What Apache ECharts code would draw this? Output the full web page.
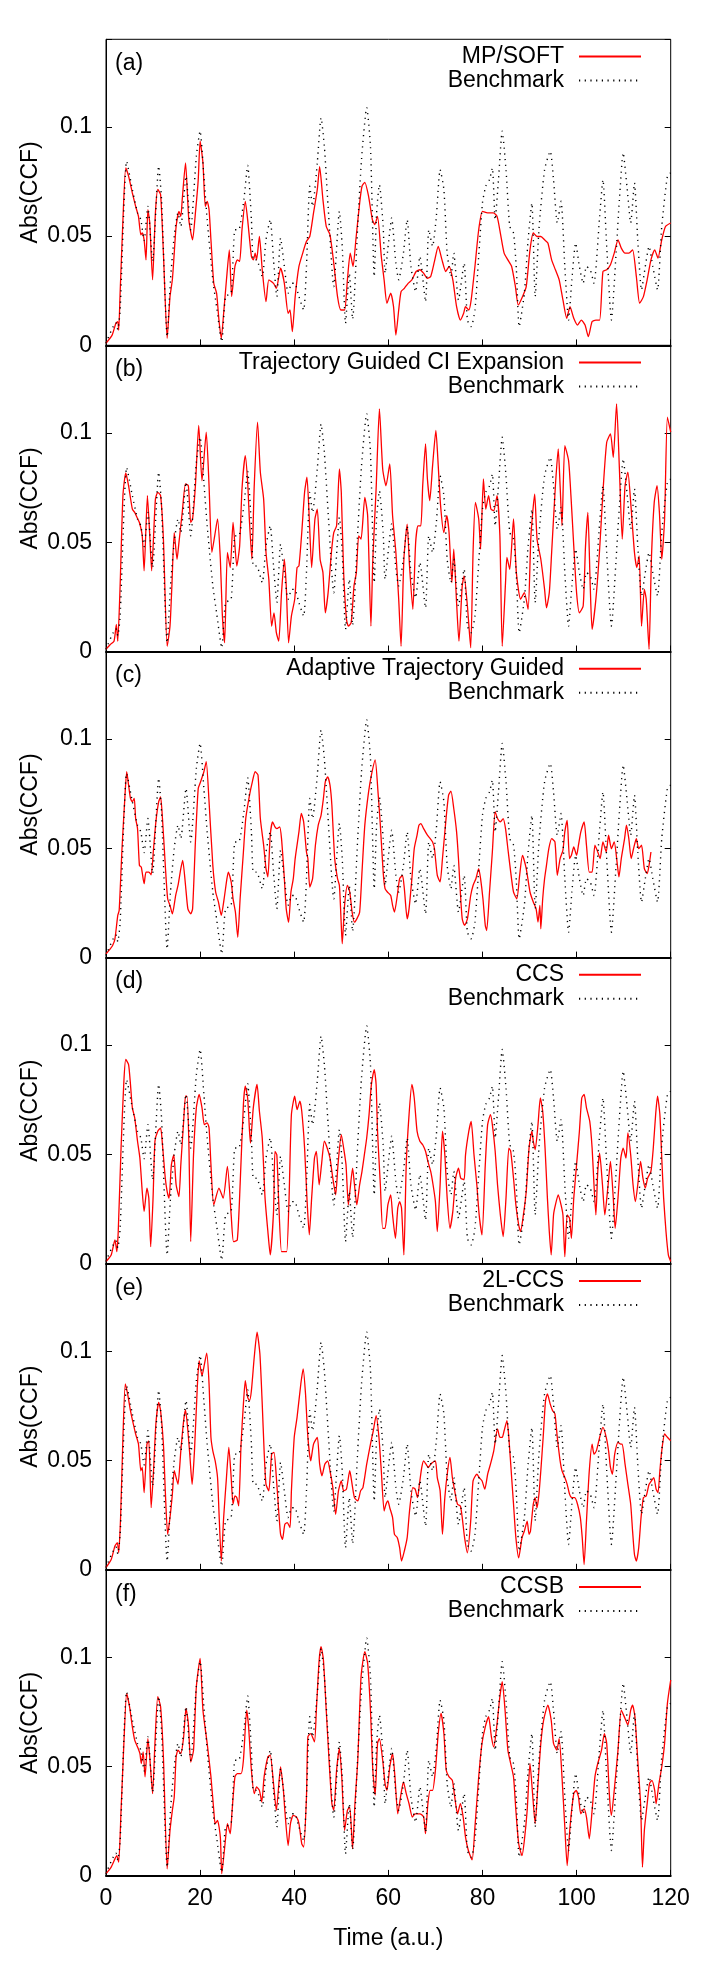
<!DOCTYPE html>
<html>
<head>
<meta charset="utf-8">
<script src="https://cdn.jsdelivr.net/npm/echarts@6/dist/echarts.min.js"></script>
<style>
html, body { margin: 0; padding: 0; background: #fff; }
#chart { width: 706px; height: 1976px; }
</style>
</head>
<body>
<div id="chart"></div>
<script>
// benchmark |CCF|, same curve in every panel: [time (a.u.), value]
const bench = [[0,.001],[2.1,.0104],[2.5,.0073],[3.0,.016],[4.4,.0842],[5.6,.0713],[6.7,.0606],[7.4,.0575],[8.1,.048],[8.9,.0636],[9.9,.0384],[11.2,.082],[11.8,.0667],[13.0,.004],[13.7,.030],[14.5,.050],[15.3,.0606],[15.9,.0544],[17.0,.0774],[18.0,.0529],[19.2,.0865],[20.0,.098],[20.8,.0774],[21.5,.0575],[22.7,.030],[23.5,.0177],[24.6,.0017],[25.4,.0223],[26.6,.0239],[27.4,.0529],[28.2,.0529],[29.3,.0667],[30.1,.0823],[30.9,.0575],[31.3,.0391],[32.0,.0391],[33.2,.0315],[34.0,.0483],[34.9,.0575],[35.6,.0391],[36.3,.0223],[37.1,.0491],[37.9,.0361],[38.7,.0239],[39.5,.0284],[40.1,.0284],[41.0,.0223],[42.0,.0162],[42.6,.0361],[43.3,.0728],[43.9,.0636],[44.9,.0835],[45.7,.1041],[46.4,.0911],[47.2,.0636],[48.4,.0269],[49.6,.0613],[50.2,.0453],[50.9,.0101],[51.7,.033],[52.4,.012],[53.5,.055],[54.3,.085],[55.4,.1087],[56.2,.0911],[57.0,.0315],[57.5,.0606],[58.1,.0735],[58.9,.0544],[59.3,.033],[60.1,.0483],[60.7,.0583],[61.6,.0376],[62.2,.030],[63.2,.0422],[64.0,.0575],[64.8,.0361],[65.8,.0246],[66.7,.0407],[67.9,.020],[68.6,.0529],[69.4,.0453],[70.2,.059],[71.0,.0804],[71.8,.0713],[72.5,.0422],[73.3,.0315],[73.9,.0422],[74.9,.0208],[76.1,.0376],[76.8,.0116],[77.6,.0086],[78.4,.0162],[79.2,.0407],[80.0,.0651],[80.7,.0728],[81.5,.0758],[82.1,.0812],[82.7,.0575],[83.4,.0758],[84.2,.098],[85.0,.0804],[85.8,.0544],[86.6,.0514],[87.2,.035],[87.8,.0086],[88.9,.0239],[89.7,.0483],[90.5,.0651],[91.2,.0223],[92.0,.0529],[93.2,.0804],[94.4,.0888],[95.1,.0758],[95.9,.056],[96.7,.0659],[97.5,.0361],[98.3,.0116],[99.0,.030],[99.8,.0468],[100.6,.0361],[101.4,.0284],[102.1,.0361],[102.9,.0346],[103.7,.0284],[104.9,.059],[105.6,.0758],[106.4,.0453],[107.4,.0116],[108.4,.0422],[109.1,.0667],[109.9,.0881],[110.7,.0728],[111.5,.056],[112.3,.0743],[113.0,.0483],[113.8,.0254],[114.6,.0361],[115.4,.0453],[116.2,.0361],[117.2,.0254],[118.1,.0544],[119.3,.0774],[120,.0789]];

const mpsoft = [[0,.001],[1.3,.0047],[2.1,.0101],[2.5,.0109],[2.7,.007],[3.0,.0239],[3.6,.0575],[4.2,.0812],[4.8,.0774],[5.6,.0697],[6.3,.0636],[6.9,.059],[7.4,.0506],[7.7,.0514],[8.1,.0483],[8.5,.0391],[8.9,.0621],[9.3,.056],[9.9,.030],[10.5,.0606],[11.0,.0713],[11.6,.069],[12.2,.0422],[13.0,.0032],[13.6,.0223],[14.1,.030],[14.5,.0422],[14.9,.0544],[15.5,.0613],[15.9,.059],[16.2,.0667],[16.9,.0835],[17.6,.0575],[18.4,.0483],[19.0,.0606],[19.6,.0758],[20.0,.0934],[20.6,.0835],[21.1,.0636],[21.5,.0659],[21.9,.0621],[22.3,.0483],[22.9,.0284],[23.5,.0239],[24.0,.0116],[24.5,.0032],[25.0,.0147],[25.6,.030],[26.2,.0437],[26.7,.0223],[27.4,.0361],[27.9,.0391],[28.4,.0384],[28.9,.0529],[29.6,.0659],[30.1,.0575],[30.9,.0407],[31.3,.0391],[31.7,.0422],[32.0,.0391],[32.6,.0498],[33.2,.0346],[34.0,.020],[34.6,.030],[35.6,.0284],[36.2,.0261],[37.1,.0353],[37.9,.0284],[38.7,.0147],[39.1,.0162],[39.6,.0063],[40.2,.0223],[41.0,.0361],[41.8,.0422],[42.6,.0476],[43.3,.0498],[44.1,.0606],[44.9,.0713],[45.4,.0817],[46.1,.0667],[46.8,.0544],[47.6,.0506],[48.4,.0376],[49.2,.0223],[49.9,.0162],[50.7,.0162],[51.3,.030],[51.9,.0422],[52.5,.0361],[53.1,.0483],[53.9,.0651],[54.4,.0728],[55.0,.0746],[55.8,.0682],[56.6,.0575],[57.1,.0552],[57.7,.059],[58.5,.0407],[59.1,.030],[59.7,.0193],[60.5,.0239],[61.1,.0177],[61.6,.0047],[62.2,.0162],[62.7,.0246],[63.4,.0261],[64.2,.0284],[65.0,.030],[65.9,.0338],[66.7,.0346],[67.5,.033],[68.3,.0307],[69.0,.0315],[69.8,.0384],[70.6,.0453],[71.4,.0391],[72.2,.0338],[72.9,.0361],[73.7,.030],[74.5,.0177],[75.3,.0116],[76.0,.0147],[76.4,.0177],[77.1,.0162],[77.6,.0208],[78.4,.0361],[79.2,.0529],[80.0,.0613],[81.1,.0606],[82.3,.0606],[83.1,.059],[83.8,.0514],[84.6,.0422],[85.4,.0391],[86.2,.0361],[87.0,.0269],[87.6,.0185],[88.5,.0223],[89.3,.0269],[90.1,.0437],[90.8,.0514],[91.6,.0498],[92.4,.0498],[93.2,.0483],[93.9,.0468],[94.7,.0391],[95.5,.0346],[96.3,.030],[97.1,.0208],[97.9,.0124],[98.6,.0177],[99.4,.0124],[100.2,.0093],[101.0,.0116],[101.8,.0093],[102.5,.004],[103.3,.0109],[104.1,.0116],[104.9,.0116],[105.6,.0338],[106.4,.0346],[107.2,.0369],[108.0,.0422],[108.8,.0483],[109.5,.0445],[110.3,.0422],[111.1,.0422],[111.9,.0437],[112.7,.0315],[113.4,.0193],[114.2,.0223],[115.0,.030],[115.8,.0391],[116.6,.0437],[117.3,.0399],[118.1,.0483],[118.9,.0544],[120,.056]];

const tgci = [[0,.001],[0.9,.0032],[1.7,.0047],[2.2,.0124],[2.5,.0047],[3.0,.030],[3.6,.0713],[4.2,.0817],[4.8,.0758],[5.6,.0651],[6.1,.0636],[6.6,.0613],[7.1,.059],[7.7,.0529],[8.1,.0369],[8.8,.0713],[9.3,.0529],[9.7,.0369],[10.5,.0697],[11.0,.0728],[11.6,.0713],[12.2,.0514],[13.0,.0024],[13.6,.0116],[14.0,.030],[14.5,.0544],[15.1,.0422],[15.5,.0498],[16.2,.0636],[16.9,.0766],[17.5,.0758],[18.0,.059],[18.4,.0606],[19.0,.0758],[19.7,.1034],[20.4,.0781],[21.3,.1003],[21.9,.0758],[22.5,.0453],[23.1,.0529],[23.7,.0606],[24.3,.0422],[24.7,.0177],[25.2,.004],[25.8,.0453],[26.4,.0384],[27.0,.059],[27.8,.0391],[28.4,.0483],[28.9,.0743],[29.6,.0896],[30.1,.0774],[30.5,.059],[31.0,.0422],[31.5,.0758],[32.2,.1049],[32.8,.082],[33.5,.0697],[34.0,.0453],[34.6,.033],[35.2,.0116],[35.7,.0177],[36.2,.0086],[36.7,.0047],[37.3,.0269],[37.9,.0422],[38.3,.030],[38.8,.004],[39.4,.0162],[40.1,.0239],[40.6,.0384],[41.0,.0391],[41.6,.0544],[42.2,.0728],[42.7,.0797],[43.2,.0606],[43.7,.0384],[44.4,.0606],[44.9,.0651],[45.5,.0422],[46.1,.0361],[46.6,.0177],[47.2,.0269],[47.9,.0453],[48.4,.0544],[49.0,.0575],[49.6,.0835],[50.0,.0728],[50.5,.0361],[51.1,.0147],[51.5,.0116],[52.1,.0132],[52.7,.030],[53.2,.0361],[53.7,.0529],[54.2,.0514],[55.0,.0705],[55.6,.0621],[56.3,.0116],[56.7,.0422],[57.4,.0743],[58.1,.111],[58.8,.0835],[59.5,.0758],[60.3,.0858],[60.9,.0621],[61.6,.0453],[62.2,.0239],[62.7,.0024],[63.3,.0422],[64.0,.0583],[64.5,.0391],[65.2,.0193],[65.8,.0498],[66.3,.0575],[66.9,.0575],[67.3,.0758],[67.9,.095],[68.3,.0789],[68.8,.069],[69.4,.085],[70.1,.1011],[70.6,.085],[71.1,.0667],[71.8,.0544],[72.4,.0621],[72.9,.0544],[73.5,.0315],[73.9,.0468],[74.5,.0223],[75.0,.0047],[75.7,.030],[76.1,.0346],[76.8,.0208],[77.5,.0017],[78.0,.0453],[78.5,.0682],[79.2,.0606],[79.6,.0468],[80.2,.0789],[80.7,.0651],[81.3,.0713],[81.8,.0651],[82.4,.0644],[83.1,.0713],[83.7,.0529],[84.2,.0024],[84.9,.0315],[85.2,.043],[85.8,.0376],[86.6,.0606],[87.2,.0361],[88.1,.0239],[88.9,.0269],[89.7,.0193],[90.3,.0529],[91.1,.072],[91.6,.0514],[92.4,.0422],[93.2,.0284],[93.6,.020],[94.2,.0269],[94.7,.0453],[95.5,.0758],[96.1,.0927],[96.5,.0758],[96.9,.0575],[97.5,.0942],[98.3,.0873],[98.8,.0713],[99.4,.0483],[100.0,.0269],[100.6,.0177],[101.4,.0208],[101.9,.0483],[102.4,.0636],[102.9,.030],[103.3,.0101],[104.1,.0239],[104.9,.0468],[105.6,.0728],[106.4,.0957],[107.2,.0995],[107.8,.0888],[108.5,.1133],[109.1,.0835],[109.7,.0514],[110.3,.0758],[110.9,.082],[111.5,.0682],[112.3,.0453],[112.8,.0384],[113.3,.0437],[113.8,.0116],[114.4,.0284],[114.8,.0239],[115.4,.001],[115.9,.0422],[116.5,.0682],[117.1,.0758],[117.6,.0636],[118.1,.0422],[118.7,.0606],[119.3,.1072],[120,.1003]];

const atg = [[0,.0017],[0.9,.004],[1.4,.0055],[1.9,.0086],[2.5,.0193],[2.8,.0216],[3.4,.0498],[4.0,.0728],[4.4,.085],[4.8,.0789],[5.2,.0728],[5.6,.0713],[6.0,.0728],[6.3,.0636],[6.7,.059],[7.1,.0422],[7.5,.0414],[8.1,.0338],[8.5,.0391],[9.1,.0391],[9.6,.0379],[10.1,.0498],[10.6,.0621],[11.2,.0713],[11.6,.0735],[12.0,.0636],[12.6,.0422],[13.1,.0269],[13.6,.0239],[14.1,.020],[14.8,.0284],[15.3,.033],[15.9,.0407],[16.3,.0445],[16.9,.033],[17.4,.0223],[18.0,.020],[18.4,.0223],[19.0,.0529],[19.6,.0774],[20.1,.0804],[20.8,.085],[21.3,.0896],[21.9,.0713],[22.7,.0422],[23.3,.030],[23.9,.0254],[24.5,.0193],[25.1,.0269],[25.7,.0361],[26.0,.0391],[26.6,.0346],[27.0,.0269],[27.5,.0208],[28.0,.0093],[28.5,.0269],[29.2,.0483],[29.7,.0636],[30.5,.0743],[31.1,.0804],[31.7,.085],[32.3,.0835],[32.8,.0636],[33.5,.0514],[34.0,.0407],[34.4,.0369],[34.9,.056],[35.4,.0621],[35.9,.0598],[36.3,.059],[36.9,.0598],[37.3,.0544],[37.9,.0361],[38.3,.0223],[38.8,.0162],[39.3,.030],[39.8,.0361],[40.2,.0453],[41.0,.0575],[41.5,.0659],[42.0,.0621],[42.6,.0483],[42.9,.0453],[43.3,.0323],[43.9,.0361],[44.5,.0514],[45.1,.0606],[45.7,.0651],[46.2,.0728],[46.6,.0804],[47.1,.0827],[47.6,.0789],[48.0,.0697],[48.6,.0453],[49.2,.0361],[49.6,.033],[50.0,.0147],[50.2,.0063],[50.7,.0239],[51.3,.033],[51.8,.030],[52.3,.0208],[52.8,.0162],[53.3,.0177],[53.9,.0208],[54.4,.0391],[55.0,.0606],[55.8,.0758],[56.4,.0835],[57.2,.0904],[57.8,.0758],[58.3,.0606],[58.9,.0391],[59.3,.0315],[59.8,.030],[60.5,.0284],[60.9,.0239],[61.3,.0208],[61.9,.0284],[62.4,.0361],[63.0,.0376],[63.4,.0315],[64.0,.0177],[64.4,.0223],[65.0,.0361],[65.5,.0498],[66.1,.056],[66.5,.0606],[66.9,.0613],[67.5,.059],[68.3,.056],[68.9,.0544],[69.4,.0529],[69.8,.0498],[70.4,.0376],[71.0,.0346],[71.5,.0453],[72.2,.0621],[72.8,.0743],[73.3,.0761],[73.9,.0682],[74.5,.0575],[74.9,.0453],[75.3,.030],[75.7,.0177],[76.2,.0147],[76.8,.0177],[77.5,.0284],[78.0,.033],[78.6,.0361],[79.2,.0407],[79.6,.0361],[80.1,.0269],[80.6,.0147],[80.9,.0124],[81.5,.030],[82.1,.0483],[82.7,.0667],[83.2,.0636],[83.8,.0621],[84.4,.0636],[84.9,.059],[85.4,.0498],[86.0,.0391],[86.6,.030],[87.3,.0269],[87.9,.0376],[88.5,.0468],[89.3,.0407],[90.1,.030],[90.8,.0254],[91.4,.0223],[91.8,.0162],[92.2,.0239],[92.4,.0132],[92.8,.0269],[93.2,.0361],[93.6,.0422],[94.1,.0498],[94.7,.0544],[95.4,.0529],[95.9,.0376],[96.5,.0453],[97.1,.0491],[97.5,.0575],[98.0,.0628],[98.5,.0453],[98.9,.0468],[99.4,.0506],[100.0,.0468],[100.4,.0514],[100.9,.0575],[101.6,.0621],[102.1,.0514],[102.7,.0391],[103.3,.0391],[103.9,.0514],[104.5,.0483],[105.0,.0453],[105.6,.0529],[106.3,.0483],[106.8,.056],[107.4,.0498],[108.0,.0529],[108.6,.0437],[109.0,.0369],[109.5,.0453],[110.2,.0544],[110.6,.0606],[111.1,.0544],[111.6,.0453],[112.1,.0498],[112.7,.0544],[113.2,.0498],[113.8,.0514],[114.4,.0407],[115.0,.0384],[115.4,.0422],[115.8,.0483]];

const ccs = [[0,.001],[1.1,.004],[1.9,.0109],[2.3,.0055],[2.6,.0147],[3.2,.0529],[3.8,.0835],[4.2,.0934],[4.8,.0911],[5.2,.082],[5.6,.0713],[6.1,.0667],[6.7,.056],[7.2,.0483],[7.7,.033],[8.1,.0239],[8.7,.0346],[9.1,.030],[9.5,.0078],[10.0,.030],[10.4,.056],[11.0,.0606],[11.6,.0621],[12.0,.0544],[12.6,.0391],[13.0,.033],[13.4,.030],[13.9,.0453],[14.4,.0498],[14.9,.0361],[15.5,.0307],[15.9,.0453],[16.5,.0651],[16.9,.0766],[17.2,.0766],[17.6,.056],[18.0,.0101],[18.6,.0498],[19.2,.0713],[19.8,.0774],[20.4,.0713],[20.9,.0636],[21.5,.0644],[21.9,.0621],[22.3,.0453],[22.9,.0269],[24.0,.0346],[24.9,.030],[25.8,.0445],[26.6,.0223],[27.1,.0101],[27.9,.0109],[28.5,.0361],[29.2,.0728],[29.6,.0812],[30.1,.0758],[30.5,.0606],[30.7,.0552],[31.3,.0713],[32.1,.082],[32.6,.0697],[33.2,.0575],[33.8,.030],[34.4,.0147],[34.9,.004],[35.6,.0239],[35.9,.0514],[36.3,.0498],[36.7,.0284],[37.3,.0055],[37.9,.0055],[38.4,.0055],[38.9,.030],[39.4,.0682],[40.1,.0766],[40.6,.0705],[41.2,.0743],[41.6,.0697],[42.2,.0529],[42.7,.030],[43.2,.0132],[43.7,.030],[44.3,.0483],[44.7,.0514],[45.3,.0361],[45.8,.0453],[46.4,.056],[47.0,.0529],[47.6,.0483],[48.2,.0391],[48.8,.0315],[49.3,.0453],[50.0,.059],[50.5,.0529],[51.0,.0453],[51.5,.0269],[51.9,.0346],[52.4,.0437],[52.8,.0361],[53.3,.0269],[53.9,.0361],[54.4,.0422],[54.9,.0498],[55.4,.0575],[55.9,.0682],[56.4,.082],[57.0,.0888],[57.4,.082],[57.7,.0606],[58.3,.0361],[58.8,.0162],[59.3,.0162],[59.9,.0269],[60.5,.0315],[60.9,.0223],[61.5,.0116],[62.0,.0254],[62.4,.0284],[62.8,.0254],[63.3,.004],[63.8,.0453],[64.4,.0682],[65.0,.082],[65.5,.0758],[66.1,.0606],[66.7,.056],[67.3,.0544],[67.9,.0514],[68.4,.0468],[69.0,.0422],[69.5,.0361],[70.0,.0284],[70.4,.0147],[71.0,.0361],[71.5,.0606],[72.0,.0498],[72.5,.030],[73.1,.0162],[73.7,.0239],[74.3,.0391],[74.9,.0437],[75.4,.0391],[76.1,.0384],[76.4,.0498],[77.1,.0606],[77.6,.0651],[78.2,.0498],[78.8,.0361],[79.3,.0223],[79.9,.0132],[80.6,.0453],[81.1,.0636],[81.7,.0682],[82.1,.0636],[82.7,.0514],[83.2,.0361],[83.8,.0223],[84.4,.0124],[85.0,.030],[85.6,.0529],[86.0,.0514],[86.6,.0391],[87.1,.0269],[87.7,.0177],[88.1,.0147],[88.7,.0223],[89.3,.033],[89.9,.0529],[90.5,.0606],[90.8,.056],[91.2,.0521],[91.8,.0636],[92.3,.0758],[92.8,.0697],[93.3,.0529],[93.8,.030],[94.2,.0147],[94.6,.004],[95.1,.0223],[95.5,.0269],[96.1,.0315],[96.7,.0269],[97.1,.0223],[97.5,.0032],[98.0,.0223],[98.5,.0208],[98.9,.0116],[99.4,.030],[100.0,.0453],[100.6,.0606],[101.1,.0758],[101.6,.0774],[102.1,.0713],[102.8,.0651],[103.3,.0529],[103.7,.0361],[104.1,.0223],[104.5,.0422],[104.9,.0506],[105.5,.0361],[106.0,.0223],[106.7,.0361],[107.2,.0468],[107.8,.030],[108.2,.0162],[108.8,.030],[109.4,.0483],[109.9,.0529],[110.5,.0483],[110.9,.0598],[111.5,.0498],[112.0,.0361],[112.5,.0284],[113.0,.0361],[113.6,.0468],[114.1,.0391],[114.6,.0346],[115.1,.0391],[115.8,.0422],[116.3,.0529],[116.8,.0682],[117.2,.0766],[117.7,.0682],[118.1,.0483],[118.5,.030],[119.0,.0147],[119.5,.004],[120,.001]];

const ccs2l = [[0,.001],[1.1,.0047],[1.9,.0109],[2.4,.0124],[2.7,.0078],[3.1,.0239],[3.6,.0606],[4.1,.085],[4.6,.0804],[5.2,.0728],[5.8,.0667],[6.3,.0621],[6.9,.0575],[7.4,.0453],[7.7,.0468],[8.1,.0353],[8.7,.0575],[9.1,.059],[9.6,.0284],[10.1,.0453],[10.6,.0667],[11.2,.0766],[11.6,.0728],[12.2,.0575],[12.6,.0361],[13.1,.0162],[13.6,.0239],[14.1,.0346],[14.5,.0453],[14.9,.0422],[15.3,.0391],[15.9,.0544],[16.5,.0682],[16.9,.0731],[17.4,.0636],[17.8,.0529],[18.3,.0391],[18.8,.0544],[19.4,.0835],[19.8,.0957],[20.4,.0888],[20.8,.0927],[21.4,.0991],[21.9,.085],[22.3,.0606],[22.7,.0544],[23.2,.0498],[23.7,.0422],[24.0,.0269],[24.5,.004],[25.0,.0239],[25.6,.0422],[26.1,.056],[26.6,.0422],[27.0,.030],[27.4,.0338],[27.8,.033],[28.2,.0292],[28.7,.0575],[29.2,.0758],[29.6,.0865],[30.1,.0789],[30.5,.0774],[30.9,.082],[31.5,.0972],[32.1,.1087],[32.7,.0988],[33.2,.0758],[33.6,.0544],[34.0,.0391],[34.6,.0361],[35.2,.0529],[35.7,.0537],[36.2,.0422],[36.7,.0269],[37.1,.0162],[37.5,.0139],[38.0,.0208],[38.5,.0216],[39.1,.0193],[39.4,.0361],[40.0,.0606],[40.6,.0697],[41.4,.085],[41.9,.0919],[42.4,.0804],[42.9,.0606],[43.5,.0498],[44.1,.0575],[44.9,.0606],[45.4,.0483],[45.9,.043],[46.5,.0483],[47.1,.0498],[47.6,.0453],[48.2,.0376],[48.8,.0254],[49.4,.0361],[50.0,.0407],[50.5,.0361],[51.1,.0369],[51.8,.0453],[52.3,.0391],[52.8,.033],[53.5,.0315],[54.1,.0361],[54.6,.0376],[55.4,.0483],[56.2,.0575],[56.8,.0636],[57.4,.0705],[58.0,.0606],[58.5,.0453],[59.1,.0269],[59.5,.030],[59.9,.0315],[60.3,.0284],[60.9,.0239],[61.3,.0162],[61.9,.0147],[62.4,.0101],[62.8,.004],[63.4,.0086],[64.0,.0147],[64.5,.0269],[65.2,.0376],[65.7,.0369],[66.2,.033],[66.6,.0391],[67.1,.0468],[67.5,.0498],[68.0,.0483],[68.5,.0468],[69.0,.0483],[69.4,.0491],[70.0,.0498],[70.4,.0422],[71.0,.0361],[71.5,.0162],[72.0,.033],[72.6,.0453],[73.1,.0514],[73.6,.0422],[74.1,.0361],[74.7,.030],[75.3,.0292],[75.7,.0239],[76.2,.0147],[76.8,.0078],[77.5,.0223],[78.0,.0407],[78.8,.0437],[79.3,.0422],[79.9,.0407],[80.5,.0369],[81.1,.0437],[81.7,.0483],[82.4,.0544],[83.2,.0644],[83.7,.0606],[84.2,.0606],[84.6,.0636],[85.2,.0682],[85.6,.0606],[86.2,.0422],[86.6,.030],[87.1,.0147],[87.7,.0055],[88.4,.0147],[88.9,.0177],[89.5,.0223],[89.9,.0162],[90.2,.0177],[90.8,.030],[91.2,.033],[91.6,.0284],[92.0,.0346],[92.4,.0453],[92.9,.0606],[93.4,.0774],[93.8,.0804],[94.4,.0758],[94.9,.0728],[95.4,.0713],[95.9,.0606],[96.5,.0498],[96.9,.0453],[97.5,.0422],[98.0,.0391],[98.5,.0346],[99.0,.033],[99.6,.033],[100.2,.030],[100.8,.0239],[101.2,.0147],[101.6,.0024],[102.1,.0223],[102.7,.0453],[103.3,.0575],[103.7,.0529],[104.2,.0544],[104.9,.0606],[105.6,.0651],[106.3,.0606],[106.8,.0544],[107.2,.0468],[107.6,.0437],[108.1,.0529],[108.8,.0583],[109.4,.0575],[109.7,.0575],[110.3,.0483],[110.9,.0391],[111.5,.030],[111.9,.0177],[112.3,.007],[112.7,.004],[113.2,.0101],[113.7,.0239],[114.2,.033],[114.8,.0338],[115.4,.0391],[115.9,.0407],[116.4,.0422],[116.9,.0369],[117.3,.0353],[117.7,.0453],[118.1,.0544],[118.7,.0621],[119.3,.0606],[120,.059]];

const ccsb = [[0,.001],[1.1,.004],[1.9,.0078],[2.3,.0093],[2.7,.0063],[3.2,.030],[3.8,.0606],[4.4,.0835],[5.0,.0774],[5.6,.0682],[6.1,.0621],[6.7,.059],[7.2,.056],[7.5,.0514],[7.9,.0567],[8.3,.0453],[8.9,.0628],[9.3,.0544],[9.9,.0376],[10.4,.0606],[11.0,.082],[11.6,.0774],[12.2,.0544],[13.0,.0032],[13.6,.0208],[14.1,.030],[14.5,.0361],[14.9,.0544],[15.3,.0575],[15.9,.056],[16.5,.0636],[17.0,.0766],[17.5,.0697],[18.0,.0521],[18.6,.0575],[19.2,.0865],[20.0,.0995],[20.6,.0758],[21.5,.0606],[22.3,.0453],[22.9,.030],[23.2,.0239],[23.7,.0254],[24.3,.0177],[24.6,.001],[25.3,.0147],[25.8,.0239],[26.4,.0193],[26.8,.030],[27.4,.0453],[27.9,.0468],[28.7,.0468],[29.2,.0529],[29.9,.0758],[30.3,.0682],[30.9,.0483],[31.5,.0376],[32.0,.0407],[32.6,.0391],[33.1,.0338],[33.6,.0453],[34.4,.0544],[34.9,.0552],[35.6,.0422],[36.2,.030],[37.1,.0498],[37.7,.0391],[38.0,.030],[38.7,.0139],[39.2,.0239],[39.8,.0277],[40.5,.0269],[41.0,.0239],[41.6,.0147],[42.0,.0132],[42.6,.0361],[42.9,.0636],[43.5,.0651],[44.3,.0613],[44.7,.0758],[45.3,.0988],[45.7,.1049],[46.2,.0988],[46.8,.0758],[47.4,.0529],[48.0,.033],[48.4,.030],[49.0,.0483],[49.6,.0583],[50.1,.0453],[50.7,.0208],[51.3,.030],[51.8,.0315],[52.4,.0124],[52.9,.033],[53.5,.0529],[54.2,.0911],[55.0,.1026],[55.6,.0972],[56.2,.0758],[56.7,.0483],[57.2,.0369],[57.7,.0606],[58.1,.0628],[58.8,.0529],[59.3,.0422],[59.7,.0391],[60.3,.0498],[60.9,.056],[61.4,.0453],[62.0,.0284],[62.7,.0376],[63.2,.043],[63.8,.0376],[64.4,.033],[65.1,.0269],[65.7,.0284],[66.7,.0284],[67.5,.0269],[67.9,.0193],[68.4,.033],[68.9,.0391],[69.4,.0391],[70.0,.0483],[70.6,.0651],[71.2,.0743],[71.8,.0651],[72.3,.0483],[72.9,.0453],[73.6,.0437],[74.1,.0361],[74.7,.0284],[75.3,.033],[75.9,.0269],[76.4,.0177],[77.0,.0116],[77.8,.0073],[78.4,.0223],[79.2,.0453],[79.9,.0606],[80.6,.0682],[81.3,.0728],[81.9,.0636],[82.4,.059],[83.1,.0697],[83.7,.082],[84.2,.0888],[84.8,.0758],[85.4,.0575],[86.0,.0514],[86.6,.0453],[87.1,.030],[87.7,.0147],[88.4,.0093],[88.9,.0162],[89.5,.030],[90.1,.0514],[90.7,.0361],[91.2,.0239],[91.8,.0422],[92.4,.0606],[93.0,.0713],[93.9,.0781],[94.6,.0713],[95.1,.0606],[95.8,.0575],[96.3,.0628],[96.9,.0453],[97.5,.0223],[98.0,.0047],[98.6,.0223],[99.4,.0376],[99.9,.0391],[100.4,.0361],[100.9,.0284],[101.6,.0307],[102.1,.0269],[102.7,.017],[103.3,.030],[103.9,.0453],[104.5,.0514],[105.3,.0575],[105.9,.0651],[106.4,.0606],[107.0,.0361],[107.4,.0277],[108.0,.0391],[108.8,.0575],[109.5,.0758],[110.3,.072],[110.9,.069],[111.5,.0758],[111.9,.0781],[112.4,.0728],[113.0,.0529],[113.6,.033],[114.0,.004],[114.4,.0208],[115.0,.033],[115.5,.0422],[116.0,.0437],[116.6,.0391],[116.9,.033],[117.5,.0422],[118.1,.0498],[118.7,.0606],[119.3,.0789],[120,.0896]];

const methods = ['MP/SOFT', 'Trajectory Guided CI Expansion', 'Adaptive Trajectory Guided', 'CCS', '2L-CCS', 'CCSB'];
const tags = ['(a)', '(b)', '(c)', '(d)', '(e)', '(f)'];
const curves = [mpsoft, tgci, atg, ccs, ccs2l, ccsb];
const yTicks = [0, 0.05, 0.1];
const xTicksMax = 120;

const font = '"Liberation Sans", Arial, Helvetica, sans-serif';
const top0 = 39.3, ph = 306.1, gl = 106, gr = 35.3;
const tops = methods.map((m, i) => top0 + ph * i);

const grids = tops.map(t => ({
    left: gl, right: gr, top: t, height: ph,
    show: true, borderColor: '#000', borderWidth: 1, backgroundColor: 'transparent'
}));

const xAxes = tops.map((t, i) => ({
    type: 'value', gridIndex: i, min: 0, max: xTicksMax, interval: 20,
    axisLine: { show: true, lineStyle: { color: '#000', width: 2 } },
    axisTick: { show: true, inside: true, length: 6, lineStyle: { color: '#000' } },
    axisLabel: { show: i === 5, margin: 11, fontSize: 23, color: '#000', fontFamily: font },
    splitLine: { show: false },
    name: i === 5 ? 'Time (a.u.)' : '', nameLocation: 'middle', nameGap: 51, nameMoveOverlap: false,
    nameTextStyle: { fontSize: 23, color: '#000', fontFamily: font }
}));

const yFmt = v => yTicks.some(t => Math.abs(v - t) < 1e-9) ? String(+v.toFixed(2)) : '';
const yLeft = tops.map((t, i) => ({
    type: 'value', gridIndex: i, min: 0, max: 0.14, interval: 0.05, position: 'left',
    axisLine: { show: true, lineStyle: { color: '#000', width: 1 } },
    axisTick: { show: true, inside: true, length: 6, lineStyle: { color: '#000' } },
    axisLabel: { margin: 14, fontSize: 23, color: '#000', fontFamily: font, formatter: yFmt },
    splitLine: { show: false },
    name: 'Abs(CCF)', nameLocation: 'middle', nameGap: 64, nameMoveOverlap: false,
    nameTextStyle: { fontSize: 23, color: '#000', fontFamily: font }
}));
const yRight = tops.map((t, i) => ({
    type: 'value', gridIndex: i, min: 0, max: 0.14, interval: 0.05, position: 'right',
    axisLine: { show: false },
    axisTick: { show: true, inside: true, length: 6, lineStyle: { color: '#000' } },
    axisLabel: { show: false }, splitLine: { show: false }
}));

const series = [];
curves.forEach((c, i) => {
    series.push({
        name: methods[i], type: 'line', xAxisIndex: i, yAxisIndex: i, data: c,
        symbol: 'none', smooth: 0.2, lineStyle: { color: '#ff0000', width: 1.3 }, itemStyle: { color: '#ff0000' }
    });
    series.push({
        name: 'Benchmark', type: 'line', xAxisIndex: i, yAxisIndex: i, data: bench,
        symbol: 'none', smooth: 0.2, lineStyle: { color: '#000', width: 1.4, type: [1.2, 4.5] }, itemStyle: { color: '#000' }
    });
});

// legend: line sample only, no marker, text right-aligned left of the sample
const legendBase = {
    orient: 'vertical', align: 'right', right: 64, padding: 0,
    itemWidth: 62, itemHeight: 24, selectedMode: false,
    itemStyle: { opacity: 0 },
    textStyle: { fontSize: 23, color: '#000', fontFamily: font, padding: [0, 10, 0, 0] }
};
const legends = [];
tops.forEach((t, i) => {
    legends.push(Object.assign({}, legendBase, { data: [methods[i]], top: t + 5.7 }));
    legends.push(Object.assign({}, legendBase, { data: ['Benchmark'], top: t + 29.7 }));
});

const titles = tops.map((t, i) => ({
    text: tags[i], left: 115, top: t + 13, padding: 0,
    textStyle: { fontSize: 23, fontWeight: 'normal', color: '#000', fontFamily: font }
}));

const chart = echarts.init(document.getElementById('chart'), null, { renderer: 'canvas' });
chart.setOption({
    animation: false,
    backgroundColor: '#fff',
    title: titles,
    legend: legends,
    grid: grids,
    xAxis: xAxes,
    yAxis: yLeft.concat(yRight),
    series: series
});
</script>
</body>
</html>
